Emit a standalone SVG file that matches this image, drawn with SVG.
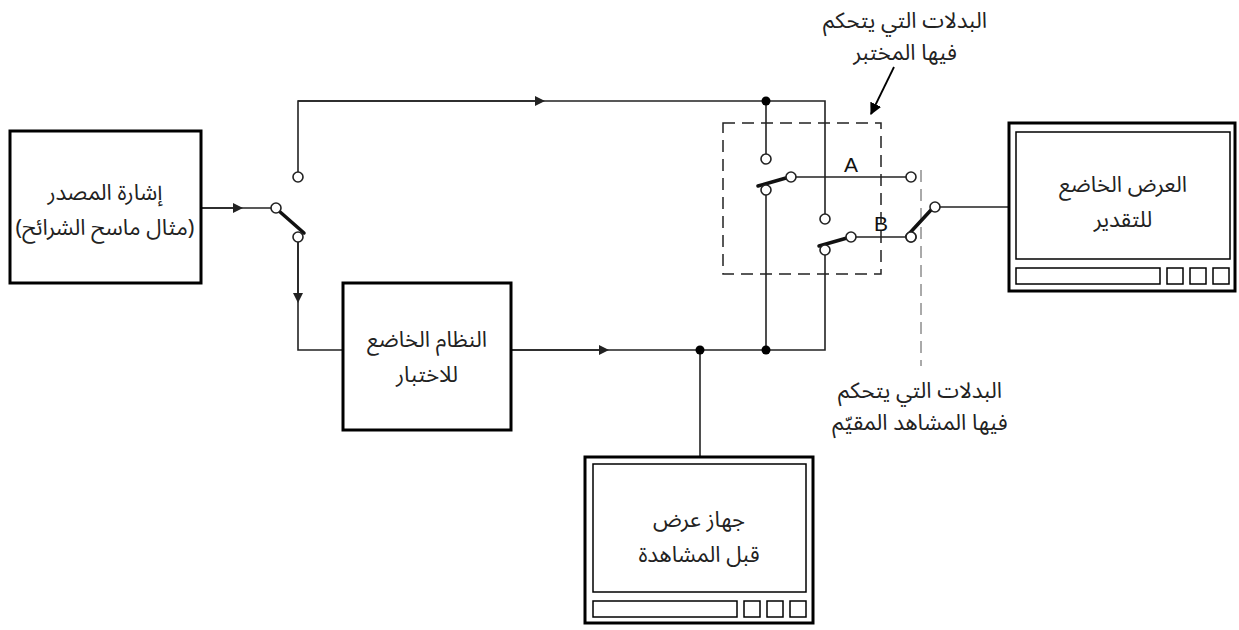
<svg xmlns="http://www.w3.org/2000/svg" width="1239" height="630" viewBox="0 0 1239 630">
<style>
.box{fill:#fff;stroke:#000;stroke-width:3}
.thin{fill:none;stroke:#000;stroke-width:1.5}
.ln{fill:none;stroke:#222;stroke-width:1.6}
.dash{fill:none;stroke:#222;stroke-width:1.5;stroke-dasharray:12,7}
.vdash{fill:none;stroke:#555;stroke-width:1;stroke-dasharray:12,7}
.term{fill:#fff;stroke:#222;stroke-width:1.6}
.blade{stroke:#111;stroke-width:3.5;stroke-linecap:round}
.dot{fill:#000}
.t{font-family:"Noto Sans","Noto Sans Arabic","DejaVu Sans",sans-serif;font-size:22px;fill:#222;text-anchor:middle}
.lbl{font-family:"Liberation Sans",Arial,sans-serif;font-size:21px;fill:#111;text-anchor:middle}
</style>
<defs>
<marker id="ar" viewBox="0 0 10 10" refX="5" refY="5" markerWidth="10" markerHeight="10" markerUnits="userSpaceOnUse" orient="auto"><path d="M0,0 L10,5 L0,10 z" fill="#222"/></marker>
<marker id="ar2" viewBox="0 0 10 10" refX="9" refY="5" markerWidth="12" markerHeight="12" markerUnits="userSpaceOnUse" orient="auto"><path d="M0,0 L10,5 L0,10 z" fill="#000"/></marker>
</defs>
<g id="connectors">
<path class="ln" d="M201,208 H271"/>
<path class="ln" d="M201,208 H238" marker-end="url(#ar)"/>
<path class="ln" d="M298,172 V101 H825 V214"/>
<path class="ln" d="M298,101 H540" marker-end="url(#ar)"/>
<path class="ln" d="M766,101 V154"/>
<path class="ln" d="M298,242 V350 H343"/>
<path class="ln" d="M298,242 V298" marker-end="url(#ar)"/>
<path class="ln" d="M511,350 H825 V255"/>
<path class="ln" d="M511,350 H604" marker-end="url(#ar)"/>
<path class="ln" d="M766,350 V195"/>
<path class="ln" d="M700,350 V457"/>
<path class="ln" d="M795,177 H906"/>
<path class="ln" d="M856,237 H906"/>
<path class="ln" d="M940,207 H1009"/>
<circle class="dot" cx="766" cy="101" r="4.5"/>
<circle class="dot" cx="700" cy="350" r="4.5"/>
<circle class="dot" cx="766" cy="350" r="4.5"/>
<rect class="dash" x="723" y="123" width="158" height="151"/>
<path class="vdash" d="M921,170 V366"/>
<path d="M894,67 L871,114" stroke="#000" stroke-width="1.8" fill="none" marker-end="url(#ar2)"/>
</g>
<g id="switch-input">
<line class="blade" x1="279" y1="211" x2="304" y2="233"/>
<circle class="term" cx="276" cy="208" r="5"/>
<circle class="term" cx="298" cy="177" r="5"/>
<circle class="term" cx="298" cy="237" r="5"/>
</g>
<g id="switch-A">
<line class="blade" x1="758" y1="186" x2="786" y2="178"/>
<circle class="term" cx="766" cy="159" r="5"/>
<circle class="term" cx="766" cy="190" r="5"/>
<circle class="term" cx="791" cy="177" r="5"/>
<circle class="term" cx="911" cy="177" r="5"/>
<text class="lbl" x="851" y="172">A</text>
</g>
<g id="switch-B">
<line class="blade" x1="819" y1="246" x2="847" y2="238"/>
<circle class="term" cx="825" cy="219" r="5"/>
<circle class="term" cx="825" cy="250" r="5"/>
<circle class="term" cx="851" cy="237" r="5"/>
<circle class="term" cx="911" cy="237" r="5"/>
<text class="lbl" x="881" y="231">B</text>
</g>
<g id="switch-viewer">
<line class="blade" x1="907" y1="236" x2="931" y2="210"/>
<circle class="term" cx="911" cy="237" r="5"/>
<circle class="term" cx="935" cy="207" r="5"/>
</g>
<g id="source">
<rect class="box" x="10" y="131" width="191" height="152"/>
<text class="t" x="105" y="200">إشارة المصدر</text>
<text class="t" x="105" y="235">(مثال ماسح الشرائح)</text>
</g>
<g id="system">
<rect class="box" x="343" y="283" width="168" height="147"/>
<text class="t" x="427" y="347">النظام الخاضع</text>
<text class="t" x="427" y="382">للاختبار</text>
</g>
<g id="preview-monitor">
<rect class="box" x="585" y="457" width="228" height="166"/>
<rect class="thin" x="593" y="464" width="213" height="128"/>
<rect class="thin" x="593" y="601" width="144" height="16"/>
<rect class="thin" x="744" y="601" width="16" height="16"/>
<rect class="thin" x="767" y="601" width="16" height="16"/>
<rect class="thin" x="790" y="601" width="16" height="16"/>
<text class="t" x="699" y="527">جهاز عرض</text>
<text class="t" x="699" y="562">قبل المشاهدة</text>
</g>
<g id="eval-monitor">
<rect class="box" x="1009" y="123" width="226" height="168"/>
<rect class="thin" x="1016" y="132" width="214" height="127"/>
<rect class="thin" x="1016" y="268" width="144" height="16"/>
<rect class="thin" x="1167" y="268" width="16" height="16"/>
<rect class="thin" x="1190" y="268" width="16" height="16"/>
<rect class="thin" x="1213" y="268" width="16" height="16"/>
<text class="t" x="1123" y="192">العرض الخاضع</text>
<text class="t" x="1123" y="227">للتقدير</text>
</g>
<g id="label-lab">
<text class="t" x="905" y="28">البدلات التي يتحكم</text>
<text class="t" x="905" y="60">فيها المختبر</text>
</g>
<g id="label-viewer">
<text class="t" x="920" y="398">البدلات التي يتحكم</text>
<text class="t" x="920" y="430">فيها المشاهد المقيّم</text>
</g>
</svg>
